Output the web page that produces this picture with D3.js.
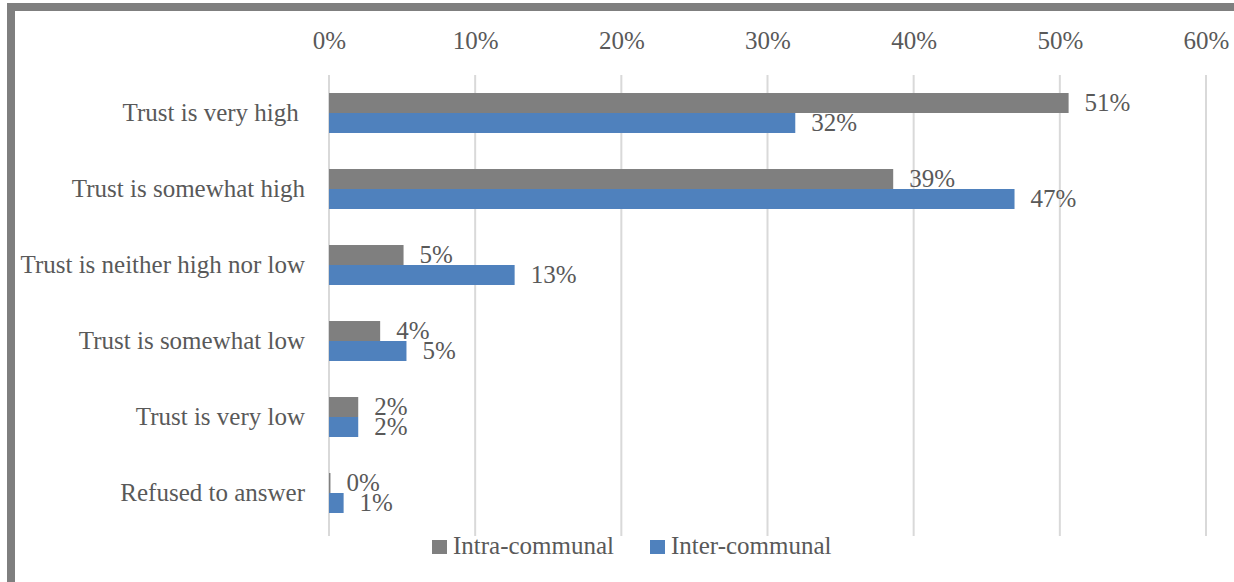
<!DOCTYPE html>
<html>
<head>
<meta charset="utf-8">
<script src="https://cdn.jsdelivr.net/npm/d3@7"></script>
<style>
  html, body { margin: 0; padding: 0; background: #fff; }
  svg { display: block; }
  svg text { font-family: "Liberation Serif", "DejaVu Serif", serif; fill: #595959; }
</style>
</head>
<body>
<svg id="chart" width="1234" height="582"></svg>
<script>
// Trust levels asked about in the survey
const categories = [
  "Trust is very high ",
  "Trust is somewhat high",
  "Trust is neither high nor low",
  "Trust is somewhat low",
  "Trust is very low",
  "Refused to answer"
];
const seriesNames = ["Intra-communal", "Inter-communal"];
// Share of respondents, in percent
const intraValues = [50.6, 38.6, 5.1, 3.5, 2.0, 0.1];
const interValues = [31.9, 46.9, 12.7, 5.3, 2.0, 1.0];
const tickValues = [0, 10, 20, 30, 40, 50, 60];
const seriesColors = ["#7f7f7f", "#4f81bd"];

const FONT_SIZE = 25;
const svg = d3.select("#chart");

// Outer frame
svg.append("path")
  .attr("d", "M11,582 V7 H1234")
  .attr("fill", "none")
  .attr("stroke", "#7f7f7f")
  .attr("stroke-width", 8);

const x = d3.scaleLinear().domain([0, 60]).range([329, 1206]);
const y = d3.scaleBand().domain(categories).range([75, 531])
  .paddingInner(0.474).paddingOuter(0.237);
const ySub = d3.scaleBand().domain(seriesNames).range([0, y.bandwidth()]);
const color = d3.scaleOrdinal().domain(seriesNames).range(seriesColors);

// Vertical gridlines
svg.append("g").selectAll("line").data(tickValues).join("line")
  .attr("x1", d => x(d)).attr("x2", d => x(d))
  .attr("y1", 75).attr("y2", 536)
  .attr("stroke", "#d9d9d9").attr("stroke-width", 2);

// Top axis labels
const xAxis = d3.axisTop(x).tickValues(tickValues)
  .tickFormat(d => d + "%").tickSize(0).tickPadding(0);
const gx = svg.append("g").attr("transform", "translate(0,49)").call(xAxis)
  .attr("font-family", null).attr("font-size", null);
gx.select(".domain").remove();
gx.selectAll("text")
  .attr("font-size", FONT_SIZE)
  .attr("fill", null);

// Category labels
const yAxis = d3.axisLeft(y).tickSize(0).tickPadding(24);
const gy = svg.append("g").attr("transform", "translate(329,0)").call(yAxis)
  .attr("font-family", null).attr("font-size", null);
gy.select(".domain").remove();
gy.selectAll("text")
  .attr("font-size", FONT_SIZE)
  .attr("fill", null)
  .style("white-space", "pre");

const rows = categories.map((c, i) => ({
  category: c,
  values: [
    { series: seriesNames[0], value: intraValues[i] },
    { series: seriesNames[1], value: interValues[i] }
  ]
}));

const groups = svg.append("g").selectAll("g").data(rows).join("g")
  .attr("transform", d => `translate(0,${y(d.category)})`);

groups.selectAll("rect").data(d => d.values).join("rect")
  .attr("x", x(0))
  .attr("y", d => ySub(d.series))
  .attr("width", d => Math.max(1, x(d.value) - x(0)))
  .attr("height", ySub.bandwidth())
  .attr("fill", d => color(d.series));

// Value labels beside each bar
groups.selectAll("text").data(d => d.values).join("text")
  .attr("x", d => x(d.value) + 16)
  .attr("y", d => ySub(d.series) + ySub.bandwidth() / 2)
  .attr("dy", "0.33em")
  .attr("font-size", FONT_SIZE)
  .text(d => Math.round(d.value) + "%");

// Legend
const legend = svg.append("g").attr("transform", "translate(432,540)");
const legendItems = legend.selectAll("g").data(seriesNames).join("g")
  .attr("transform", (d, i) => `translate(${i * 218},0)`);
legendItems.append("rect")
  .attr("width", 15).attr("height", 14)
  .attr("fill", d => color(d));
legendItems.append("text")
  .attr("x", 21).attr("y", 14)
  .attr("font-size", FONT_SIZE)
  .text(d => d);
</script>
</body>
</html>
